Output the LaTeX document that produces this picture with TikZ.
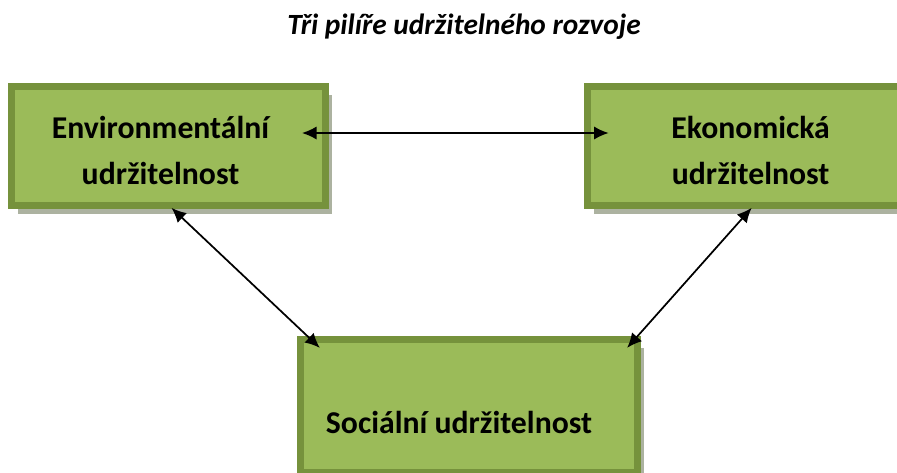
\documentclass[tikz,border=0pt]{standalone}
\usepackage{fontspec}
\setmainfont{Carlito}
\usetikzlibrary{positioning}
\usetikzlibrary{shadows}
\usetikzlibrary{calc}
\usetikzlibrary{arrows.meta}

\definecolor{pillarfill}{RGB}{155,187,89}
\definecolor{pillarborder}{RGB}{118,146,60}
\definecolor{pillarshadow}{RGB}{172,178,160}

\begin{document}
\begin{tikzpicture}[x=0.75pt,y=-0.75pt,>={Latex[length=11pt,width=10pt]},
	link/.style={<->,line width=1.3pt},
	pillar/.style={rectangle,draw=pillarborder,line width=5.25pt,fill=pillarfill,
		drop shadow={shadow xshift=5pt,shadow yshift=-6.5pt,fill=pillarshadow,opacity=1}},
	pillar text/.style={align=center,font=\bfseries\fontsize{23.8}{34.5}\selectfont}]
	
	\useasboundingbox (0,0) rectangle (897,472);
	
	\node[font=\bfseries\itshape\fontsize{22}{26}\selectfont,anchor=base] (title) at (464,34) {Tři pilíře udržitelného rozvoje};
	
	\node[pillar,minimum width=235.5pt,minimum height=89pt] (env) at (168.5,146) {};
	\node[pillar,minimum width=260pt,minimum height=89pt,right=191pt of env] (eko) {};
	\node[pillar,minimum width=253pt,minimum height=100pt] (soc) at (469,406) {};
	
	\node[pillar text] (envtext) at ($(env.center)+(-8,4)$) {Environmentální\\udržitelnost};
	\node[pillar text] (ekotext) at ($(eko.west)+(167,4)$) {Ekonomická\\udržitelnost};
	\node[pillar text,anchor=base] (soctext) at ($(soc.center)+(-10,27)$) {Sociální udržitelnost};
	
	% spojnice mezi pilíři
	\draw[link] ($(env.east)+(-27,-13)$) -- ($(eko.west)+(25,-13)$);
	\draw[link] ($(env.south)+(3,-1)$) -- ($(soc.north west)+(23,12)$);
	\draw[link] ($(eko.south west)+(168,-1)$) -- ($(soc.north east)+(-14,12)$);
\end{tikzpicture}
\end{document}
